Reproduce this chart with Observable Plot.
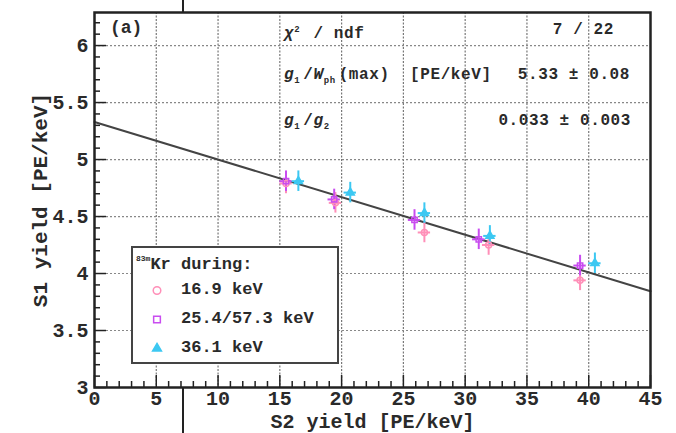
<!DOCTYPE html>
<html><head><meta charset="utf-8">
<script src="https://cdn.jsdelivr.net/npm/d3@7"></script>
<script src="https://cdn.jsdelivr.net/npm/@observablehq/plot@0.6"></script>
<style>
body{margin:0;background:#fff;}
#wrap{position:relative;width:676px;height:433px;overflow:hidden;font-family:"Liberation Mono","DejaVu Sans Mono",monospace;color:#2a2a2a;}
.ov{position:absolute;white-space:nowrap;font-weight:bold;line-height:20px;}
.st{font-size:16px;letter-spacing:0.6px;}
#legend{position:absolute;left:131px;top:246px;width:204px;height:114px;border:2px solid #444;background:#fff;font-weight:bold;font-size:17px;}
#legend .row{position:absolute;left:0;white-space:nowrap;line-height:20px;}
#legend svg{position:absolute;}
#artTop{position:absolute;left:182px;top:0;width:2px;height:12px;background:#222;}
#artBot{position:absolute;left:182px;top:388px;width:2px;height:45px;background:#222;}
</style></head><body><div id="wrap"></div>
<script>
// ---- data ----
const xTicks = [0, 5, 10, 15, 20, 25, 30, 35, 40, 45];
const yTicks = [3, 3.5, 4, 4.5, 5, 5.5, 6];
const yTickLabels = ["3", "3.5", "4", "4.5", "5", "5.5", "6"];
const xMinor = d3.range(0, 46, 1);
const yMinor = d3.range(3, 6.3, 0.1);

const seriesNames = ["16.9 keV", "25.4/57.3 keV", "36.1 keV"];
const seriesColors = ["#ff8fb8", "#c94cf0", "#3cc8f2"];
const seriesSymbols = ["circle", "square", "triangle"];

const x169 = [15.5, 19.5, 26.7, 31.9, 39.3];
const y169 = [4.79, 4.62, 4.36, 4.25, 3.94];
const x254 = [15.5, 19.4, 25.9, 31.1, 39.3];
const y254 = [4.81, 4.65, 4.47, 4.30, 4.07];
const x361 = [16.5, 20.7, 26.7, 32.0, 40.5];
const y361 = [4.81, 4.71, 4.53, 4.33, 4.09];
const yErr = [0.09, 0.09, 0.09, 0.09, 0.09];
const xErr = [0.5, 0.5, 0.5, 0.5, 0.5];

const fitX = [0, 45];
const fitY = [5.33, 3.845];

const statsRight = ["7 / 22", "5.33 ± 0.08", "0.033 ± 0.003"];

// ---- build ----
const xs = [x169, x254, x361], ys = [y169, y254, y361];
const points = [];
xs.forEach((xa, s) => xa.forEach((xv, i) => points.push({
  s, x: xv, y: ys[s][i], ex: xErr[i], ey: yErr[i]
})));
const fit = fitX.map((x, i) => ({x, y: fitY[i]}));
const Y0 = 3, Y1 = 6.29, X0 = 0, X1 = 45;
const pxY = (Y1 - Y0) / 375, pxX = (X1 - X0) / 556;

const chart = Plot.plot({
  width: 676, height: 433,
  marginLeft: 94, marginRight: 26, marginTop: 12, marginBottom: 46,
  style: {fontFamily: "'Liberation Mono', monospace", fontSize: "20px", fontWeight: "bold", color: "#2a2a2a", background: "transparent"},
  x: {domain: [X0, X1]},
  y: {domain: [Y0, Y1]},
  marks: [
    Plot.ruleX(xTicks.slice(1, -1), {x: d => d, stroke: "#777", strokeDasharray: "2,1.5", strokeWidth: 1.2}),
    Plot.ruleY(yTicks.slice(1), {y: d => d, stroke: "#888", strokeDasharray: "2,2", strokeWidth: 1.2}),
    Plot.ruleX(xMinor, {x: d => d, y1: Y0, y2: d => Y0 + (d % 5 === 0 ? 12 : 6) * pxY, stroke: "#222", strokeWidth: 1.5}),
    Plot.ruleY(yMinor, {y: d => d, x1: X0, x2: d => X0 + (Math.abs(d * 2 - Math.round(d * 2)) < 0.01 ? 12 : 6) * pxX, stroke: "#222", strokeWidth: 1.5}),
    Plot.line(fit, {x: "x", y: "y", stroke: "#444", strokeWidth: 2}),
    Plot.ruleX(points, {x: "x", y1: d => d.y - d.ey, y2: d => d.y + d.ey, stroke: d => seriesColors[d.s], strokeWidth: 2}),
    Plot.ruleY(points, {y: "y", x1: d => d.x - d.ex, x2: d => d.x + d.ex, stroke: d => seriesColors[d.s], strokeWidth: 2}),
    Plot.dot(points, {x: "x", y: "y", symbol: d => seriesSymbols[d.s], stroke: d => seriesColors[d.s], fill: d => d.s === 2 ? seriesColors[d.s] : "none", r: 3, strokeWidth: 1.5}),
    Plot.frame({stroke: "#222", strokeWidth: 2.5}),
    Plot.axisX(xTicks, {tickSize: 0, tickPadding: 3, label: null}),
    Plot.axisY(yTicks, {tickSize: 0, tickPadding: 6, tickFormat: d => yTickLabels[yTicks.indexOf(d)], label: null}),
    Plot.axisX({ticks: [], tickSize: 0, label: "S2 yield [PE/keV]", labelAnchor: "center", labelArrow: "none", labelOffset: 40, fontSize: 20}),
    Plot.axisY({ticks: [], tickSize: 0, label: "S1 yield [PE/keV]", labelAnchor: "center", labelArrow: "none", labelOffset: 62, fontSize: 21})
  ]
});
chart.style.position = "absolute";
chart.style.left = "0"; chart.style.top = "0";
const wrap = document.getElementById("wrap");
wrap.appendChild(chart);

function add(html, cls, style) {
  const d = document.createElement("div");
  d.className = cls; d.innerHTML = html; Object.assign(d.style, style); wrap.appendChild(d); return d;
}
const sb = "style='font-size:9px;padding-right:3px'";
add("(a)", "ov", {left: "110px", top: "18px", fontSize: "18px"});
add(`<i>χ</i><sup ${sb}>2</sup> / ndf`, "ov st", {left: "284px", top: "20px"});
add(`<i>g</i><sub ${sb}>1</sub>/<i>W</i><sub ${sb}>ph</sub>(max)&nbsp;&nbsp;[PE/keV]`, "ov st", {left: "284px", top: "65px"});
add(`<i>g</i><sub ${sb}>1</sub>/<i>g</i><sub ${sb}>2</sub>`, "ov st", {left: "284px", top: "111px"});
[[20, 614], [65, 630], [111, 631]].forEach(([t, r], i) => add(statsRight[i], "ov st", {right: (676 - r) + "px", top: t + "px"}));

const lg = add("", "", {}); lg.id = "legend";
const title = document.createElement("div"); title.className = "row";
title.style.left = "3px"; title.style.top = "1px";
title.innerHTML = "<sup style='font-size:8px;vertical-align:8px'>83m</sup>Kr during:";
lg.appendChild(title);
seriesNames.forEach((n, i) => {
  const r = document.createElement("div"); r.className = "row";
  r.style.left = "48px"; r.style.top = (32 + i * 29) + "px"; r.textContent = n; lg.appendChild(r);
  const s = document.createElementNS("http://www.w3.org/2000/svg", "svg");
  s.setAttribute("width", 14); s.setAttribute("height", 14);
  s.style.left = "17px"; s.style.top = (35 + i * 29) + "px";
  const sym = d3.symbol(i === 0 ? d3.symbolCircle : i === 1 ? d3.symbolSquare : d3.symbolTriangle, i === 2 ? 34 : 45)();
  s.innerHTML = `<path transform="translate(7,7.5)" d="${sym}" stroke="${seriesColors[i]}" stroke-width="1.5" fill="${i === 2 ? seriesColors[i] : "none"}"/>`;
  lg.appendChild(s);
});
add("", "", {}).id = "artTop";
add("", "", {}).id = "artBot";
</script>
</body></html>
